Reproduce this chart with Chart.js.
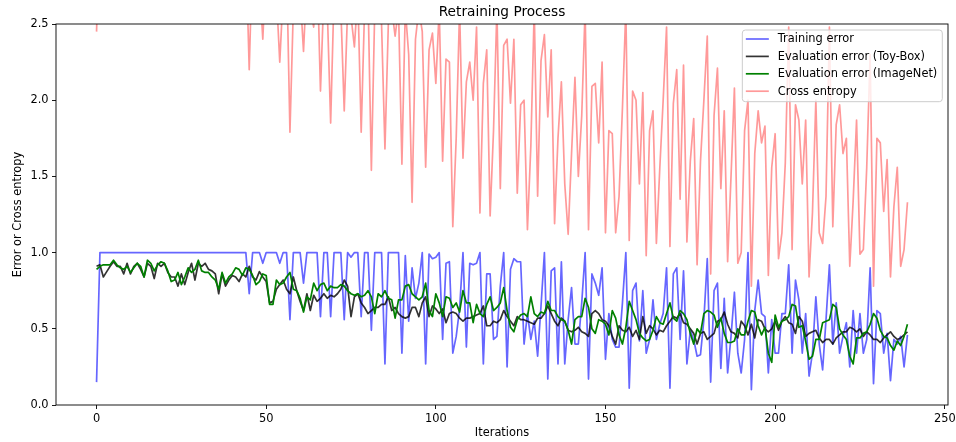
<!DOCTYPE html>
<html>
<head>
<meta charset="utf-8">
<script src="https://cdn.jsdelivr.net/npm/chart.js@4/dist/chart.umd.min.js"></script>
<style>
  html, body { margin: 0; padding: 0; background: #fff; }
  canvas { display: block; }
</style>
</head>
<body>
<canvas id="c" width="956" height="442"></canvas>
<script>
const chartTitle = 'Retraining Process';
const xAxisTitle = 'Iterations';
const yAxisTitle = 'Error or Cross entropy';
const seriesNames = ['Training error', 'Evaluation error (Toy-Box)', 'Evaluation error (ImageNet)', 'Cross entropy'];
const iterationTicks = [0, 50, 100, 150, 200, 250];
const valueTicks = [0, 0.5, 1.0, 1.5, 2.0, 2.5];

// one value per iteration, 0..239
const trainingError = [
  0.15, 1, 1, 1, 1, 1, 1, 1, 1, 1,
  1, 1, 1, 1, 1, 1, 1, 1, 1, 1,
  1, 1, 1, 1, 1, 1, 1, 1, 1, 1,
  1, 1, 1, 1, 1, 1, 1, 1, 1, 1,
  1, 1, 1, 1, 1, 0.73, 1, 1, 1, 0.93,
  1, 1, 1, 1, 0.93, 1, 1, 0.56, 1, 1,
  1, 0.80, 1, 1, 1, 1, 0.58, 1, 1, 0.58,
  1, 1, 1, 0.56, 1, 0.97, 1, 1, 0.58, 1,
  1, 0.49, 1, 1, 1, 0.27, 1, 1, 1, 1,
  0.34, 0.98, 0.55, 0.90, 0.70, 0.80, 1.0, 0.27, 0.99, 0.96,
  0.97, 1.0, 0.43, 0.93, 0.94, 0.34, 0.45, 0.63, 1.0, 0.38,
  0.93, 0.92, 0.93, 1.0, 0.27, 0.86, 0.86, 0.43, 0.45, 0.78,
  1.0, 0.25, 0.89, 0.96, 0.94, 0.94, 0.40, 0.60, 0.43, 0.55,
  0.32, 0.65, 1.0, 0.17, 0.88, 0.90, 0.27, 0.94, 0.27, 0.56,
  0.77, 0.40, 0.40, 0.67, 1.0, 0.17, 0.86, 0.80, 0.72, 0.90,
  0.30, 0.60, 0.43, 0.38, 0.38, 0.67, 1.0, 0.11, 0.75, 0.80,
  0.42, 0.75, 0.34, 0.43, 0.69, 0.43, 0.53, 0.60, 0.90, 0.11,
  0.86, 0.90, 0.43, 0.88, 0.27, 0.49, 0.43, 0.32, 0.33, 0.56,
  0.96, 0.15, 0.75, 0.80, 0.24, 0.70, 0.21, 0.45, 0.74, 0.34,
  0.21, 0.43, 1.0, 0.10, 0.62, 0.82, 0.60, 0.58, 0.21, 0.56,
  0.34, 0.34, 0.60, 0.60, 0.92, 0.34, 0.82, 0.69, 0.34, 0.60,
  0.19, 0.34, 0.71, 0.40, 0.23, 0.56, 0.92, 0.40, 0.67, 0.34,
  0.45, 0.54, 0.25, 0.62, 0.34, 0.60, 0.34, 0.43, 0.90, 0.14,
  0.62, 0.60, 0.34, 0.47, 0.16, 0.43, 0.40, 0.45, 0.25, 0.46
];

const toyBoxError = [
  0.91, 0.92, 0.84, 0.875, 0.91, 0.94, 0.91, 0.91, 0.86, 0.93,
  0.86, 0.91, 0.93, 0.89, 0.84, 0.93, 0.91, 0.83, 0.93, 0.91,
  0.93, 0.87, 0.84, 0.84, 0.78, 0.86, 0.79, 0.87, 0.93, 0.82,
  0.93, 0.91, 0.93, 0.89, 0.88, 0.86, 0.73, 0.86, 0.78, 0.82,
  0.85, 0.84, 0.81, 0.86, 0.84, 0.91, 0.84, 0.82, 0.875, 0.84,
  0.81, 0.67, 0.68, 0.76, 0.79, 0.82, 0.76, 0.73, 0.84, 0.75,
  0.68, 0.62, 0.73, 0.62, 0.72, 0.68, 0.70, 0.73, 0.70, 0.72,
  0.71, 0.73, 0.76, 0.82, 0.78, 0.58, 0.71, 0.73, 0.67, 0.64,
  0.60, 0.62, 0.64, 0.64, 0.66, 0.66, 0.71, 0.62, 0.64, 0.60,
  0.58, 0.57, 0.58, 0.64, 0.64, 0.58, 0.67, 0.71, 0.58, 0.65,
  0.63, 0.60, 0.63, 0.54, 0.60, 0.61, 0.60, 0.57, 0.55, 0.57,
  0.57, 0.58, 0.59, 0.60, 0.65, 0.52, 0.52, 0.55, 0.54, 0.56,
  0.62, 0.58, 0.55, 0.52, 0.58, 0.56, 0.56, 0.55, 0.54, 0.53,
  0.57, 0.57, 0.60, 0.65, 0.60, 0.55, 0.52, 0.57, 0.55, 0.49,
  0.48, 0.49, 0.51, 0.48, 0.47, 0.45, 0.60, 0.62, 0.60, 0.56,
  0.55, 0.52, 0.45, 0.40, 0.52, 0.49, 0.48, 0.51, 0.45, 0.49,
  0.43, 0.58, 0.47, 0.52, 0.50, 0.46, 0.49, 0.48, 0.52, 0.55,
  0.58, 0.57, 0.60, 0.54, 0.53, 0.50, 0.47, 0.40, 0.47, 0.48,
  0.43, 0.45, 0.47, 0.55, 0.56, 0.61, 0.53, 0.48, 0.47, 0.44,
  0.55, 0.52, 0.46, 0.53, 0.44, 0.56, 0.55, 0.50, 0.48, 0.50,
  0.55, 0.49, 0.55, 0.58, 0.54, 0.53, 0.47, 0.58, 0.55, 0.45,
  0.47, 0.48, 0.49, 0.44, 0.41, 0.43, 0.43, 0.40, 0.44, 0.46,
  0.48, 0.48, 0.51, 0.50, 0.48, 0.50, 0.45, 0.48, 0.46, 0.43,
  0.43, 0.41, 0.44, 0.46, 0.48, 0.45, 0.43, 0.44, 0.46, 0.48
];

const imageNetError = [
  0.89, 0.91, 0.92, 0.92, 0.92, 0.95, 0.92, 0.90, 0.89, 0.91,
  0.87, 0.90, 0.93, 0.91, 0.84, 0.95, 0.93, 0.88, 0.92, 0.94,
  0.93, 0.88, 0.81, 0.82, 0.87, 0.79, 0.84, 0.90, 0.87, 0.89,
  0.95, 0.88, 0.87, 0.87, 0.84, 0.82, 0.76, 0.87, 0.80, 0.84,
  0.86, 0.90, 0.89, 0.85, 0.90, 0.89, 0.85, 0.79, 0.81, 0.86,
  0.85, 0.66, 0.66, 0.82, 0.79, 0.80, 0.84, 0.87, 0.76, 0.75,
  0.70, 0.61, 0.71, 0.69, 0.80, 0.75, 0.79, 0.80, 0.75, 0.78,
  0.77, 0.77, 0.79, 0.78, 0.75, 0.73, 0.72, 0.73, 0.71, 0.72,
  0.75, 0.71, 0.60, 0.73, 0.71, 0.75, 0.70, 0.69, 0.57, 0.69,
  0.69, 0.78, 0.79, 0.73, 0.71, 0.69, 0.71, 0.80, 0.62, 0.58,
  0.73, 0.67, 0.58, 0.71, 0.70, 0.64, 0.67, 0.61, 0.75, 0.67,
  0.67, 0.54, 0.66, 0.60, 0.58, 0.66, 0.71, 0.62, 0.64, 0.67,
  0.77, 0.62, 0.51, 0.48, 0.56, 0.59, 0.60, 0.58, 0.71, 0.60,
  0.58, 0.61, 0.60, 0.68, 0.62, 0.62, 0.58, 0.56, 0.55, 0.49,
  0.40, 0.56, 0.58, 0.58, 0.70, 0.64, 0.50, 0.47, 0.56, 0.55,
  0.53, 0.46, 0.62, 0.57, 0.46, 0.40, 0.51, 0.68, 0.62, 0.56,
  0.47, 0.44, 0.42, 0.43, 0.49, 0.58, 0.54, 0.53, 0.60, 0.67,
  0.57, 0.55, 0.62, 0.60, 0.56, 0.47, 0.40, 0.50, 0.47, 0.60,
  0.62, 0.61, 0.59, 0.51, 0.57, 0.47, 0.41, 0.41, 0.42, 0.50,
  0.46, 0.46, 0.55, 0.62, 0.61, 0.52, 0.46, 0.51, 0.34, 0.28,
  0.59, 0.51, 0.55, 0.56, 0.58, 0.66, 0.65, 0.51, 0.52, 0.42,
  0.30, 0.32, 0.43, 0.43, 0.54, 0.55, 0.56, 0.66, 0.64, 0.50,
  0.46, 0.43, 0.32, 0.27, 0.44, 0.44, 0.47, 0.48, 0.53, 0.60,
  0.57, 0.49, 0.45, 0.44, 0.39, 0.36, 0.42, 0.39, 0.45, 0.53
];

const crossEntropy = [
  2.45, 3.2, 3.0, 3.1, 2.9, 3.0, 3.2, 3.1, 2.9, 3.0,
  3.1, 3.0, 2.9, 3.1, 3.0, 3.2, 3.0, 2.9, 3.1, 3.0,
  3.0, 3.1, 2.9, 3.0, 3.2, 3.0, 3.1, 2.9, 3.0, 3.1,
  3.0, 2.9, 3.1, 3.0, 3.2, 3.0, 2.9, 3.1, 3.0, 3.0,
  3.1, 2.9, 3.0, 3.1, 3.0, 2.2, 3.0, 2.9, 2.8, 2.40,
  2.9, 2.8, 3.0, 2.7, 2.25, 2.7, 2.9, 1.79, 2.6, 2.9,
  2.7, 2.32, 2.8, 2.6, 2.48, 2.9, 2.06, 2.7, 2.6, 1.85,
  2.7, 2.8, 2.6, 1.93, 2.6, 2.55, 2.35, 2.7, 1.79, 2.6,
  2.7, 1.54, 2.6, 2.6, 2.5, 1.68, 2.5, 2.6, 2.42, 2.6,
  1.58, 2.6, 2.3, 1.33, 2.4, 2.6, 2.45, 1.56, 2.33, 2.44,
  2.11, 2.6, 1.6, 2.27, 2.25, 1.17, 1.75, 2.6, 1.62, 2.12,
  2.25, 2.0, 2.48, 1.26, 2.11, 2.33, 1.24, 1.8, 2.6, 1.42,
  2.36, 2.40, 1.98, 2.40, 1.39, 1.97, 2.0, 1.15, 1.7, 2.6,
  1.37, 2.26, 2.43, 1.89, 2.33, 1.19, 1.75, 2.12, 1.45, 1.12,
  1.65, 2.15, 1.5, 1.9, 2.6, 1.15, 2.09, 2.11, 1.72, 2.25,
  1.13, 1.80, 1.78, 1.13, 1.37, 1.95, 2.6, 1.08, 2.06, 2.00,
  1.45, 2.05, 0.98, 1.80, 1.93, 1.06, 1.55, 2.0, 2.48, 1.04,
  1.98, 2.20, 1.35, 2.23, 1.07, 1.6, 1.88, 0.92, 1.6, 2.0,
  2.42, 0.86, 1.9, 2.21, 1.42, 1.93, 0.94, 1.5, 2.08, 0.93,
  1.0, 1.8, 2.0, 0.78, 1.65, 1.93, 1.72, 1.83, 0.85, 1.56,
  1.78, 0.96, 1.13, 1.59, 2.48, 1.02, 1.97, 1.87, 1.45, 1.87,
  0.84, 1.26, 2.0, 1.13, 1.06, 1.37, 2.48, 1.17, 1.84, 1.97,
  1.65, 1.75, 0.91, 1.34, 1.87, 0.99, 1.02, 1.56, 2.3, 0.78,
  1.75, 1.72, 1.27, 1.61, 0.84, 1.3, 1.56, 0.91, 1.02, 1.33
];

const iterations = trainingError.map((_, i) => i);

const seriesColors = ['rgba(0,0,255,0.6)', 'rgba(0,0,0,0.8)', '#008000', 'rgba(255,0,0,0.4)'];
const seriesValues = [trainingError, toyBoxError, imageNetError, crossEntropy];
const LINE_W = 1.7;
const FONT = '"DejaVu Sans", "Liberation Sans", sans-serif';
const TEXT_SIZE = 11.4;
const TITLE_SIZE = 13.7;

Chart.defaults.font.family = FONT;
Chart.defaults.font.size = TEXT_SIZE;
Chart.defaults.color = '#000';

// spines drawn over the lines
const framePlugin = {
  id: 'frame',
  afterDatasetsDraw(chart) {
    const { ctx, chartArea: a } = chart;
    ctx.save();
    ctx.strokeStyle = '#000';
    ctx.lineWidth = 0.9;
    ctx.strokeRect(a.left, a.top, a.right - a.left, a.bottom - a.top);
    ctx.restore();
  }
};

const titlePlugin = {
  id: 'plotTitle',
  afterDraw(chart) {
    const { ctx, chartArea: a } = chart;
    ctx.save();
    ctx.font = TITLE_SIZE + 'px ' + FONT;
    ctx.fillStyle = '#000';
    ctx.textAlign = 'center';
    ctx.textBaseline = 'middle';
    ctx.fillText(chartTitle, (a.left + a.right) / 2, 12.5);
    ctx.restore();
  }
};

// framed legend in the upper-right corner of the plot
const boxLegendPlugin = {
  id: 'boxLegend',
  afterDraw(chart) {
    const { ctx, chartArea: a } = chart;
    const sets = chart.data.datasets;
    ctx.save();
    ctx.font = TEXT_SIZE + 'px ' + FONT;
    const textW = Math.max(...sets.map(d => ctx.measureText(d.label).width));
    const right = a.right - 5.7;
    const top = a.top + 6;
    const w = 3.5 + 23 + 9 + textW + 5;
    const rowH = 17.4;
    const h = 9 + rowH * (sets.length - 1) + 10.5;
    const left = right - w;
    const r = 3;
    ctx.beginPath();
    ctx.moveTo(left + r, top);
    ctx.lineTo(right - r, top);
    ctx.arcTo(right, top, right, top + r, r);
    ctx.lineTo(right, top + h - r);
    ctx.arcTo(right, top + h, right - r, top + h, r);
    ctx.lineTo(left + r, top + h);
    ctx.arcTo(left, top + h, left, top + h - r, r);
    ctx.lineTo(left, top + r);
    ctx.arcTo(left, top, left + r, top, r);
    ctx.closePath();
    ctx.fillStyle = 'rgba(255,255,255,0.8)';
    ctx.fill();
    ctx.strokeStyle = '#cccccc';
    ctx.lineWidth = 1;
    ctx.stroke();
    sets.forEach((d, k) => {
      const y = top + 9 + k * rowH;
      ctx.beginPath();
      ctx.moveTo(left + 3.5, y);
      ctx.lineTo(left + 26.5, y);
      ctx.strokeStyle = d.borderColor;
      ctx.lineWidth = LINE_W;
      ctx.stroke();
      ctx.fillStyle = '#000';
      ctx.textAlign = 'left';
      ctx.textBaseline = 'middle';
      ctx.fillText(d.label, left + 35.5, y + 0.5);
    });
    ctx.restore();
  }
};

new Chart(document.getElementById('c'), {
  type: 'line',
  data: {
    labels: iterations,
    datasets: seriesNames.map((name, k) => ({
      label: name,
      data: seriesValues[k],
      borderColor: seriesColors[k],
      backgroundColor: seriesColors[k],
      borderWidth: LINE_W,
      pointRadius: 0,
      pointHoverRadius: 0,
      tension: 0,
      fill: false,
      borderJoinStyle: 'round',
      order: seriesNames.length - k
    }))
  },
  options: {
    responsive: false,
    animation: false,
    devicePixelRatio: 1,
    layout: { padding: { left: 0, right: 8, top: 24, bottom: 0 } },
    plugins: {
      legend: { display: false },
      title: { display: false },
      tooltip: { enabled: false }
    },
    scales: {
      x: {
        type: 'linear',
        position: 'bottom',
        min: -11.95,
        max: 250.95,
        afterBuildTicks: s => { s.ticks = iterationTicks.map(v => ({ value: v })); },
        afterFit: s => { s.height = 37; s.paddingLeft = 0; s.paddingRight = 0; },
        ticks: { padding: 3.5, maxRotation: 0, autoSkip: false, color: '#000', callback: v => String(v) },
        grid: { drawOnChartArea: false, drawTicks: true, tickLength: 4, tickColor: '#000', tickWidth: 0.9 },
        border: { display: false },
        title: { display: true, text: xAxisTitle, color: '#000', padding: { top: 0, bottom: 2.2 } }
      },
      y: {
        type: 'linear',
        min: 0,
        max: 2.5,
        afterBuildTicks: s => { s.ticks = valueTicks.map(v => ({ value: v })); },
        afterFit: s => { s.width = 56; s.paddingTop = 0; s.paddingBottom = 0; },
        ticks: { padding: 3.5, autoSkip: false, color: '#000', callback: v => Number(v).toFixed(1) },
        grid: { drawOnChartArea: false, drawTicks: true, tickLength: 4, tickColor: '#000', tickWidth: 0.9 },
        border: { display: false },
        title: { display: true, text: yAxisTitle, color: '#000', padding: { top: 11.2, bottom: 0 } }
      }
    }
  },
  plugins: [framePlugin, titlePlugin, boxLegendPlugin]
});
</script>
</body>
</html>
